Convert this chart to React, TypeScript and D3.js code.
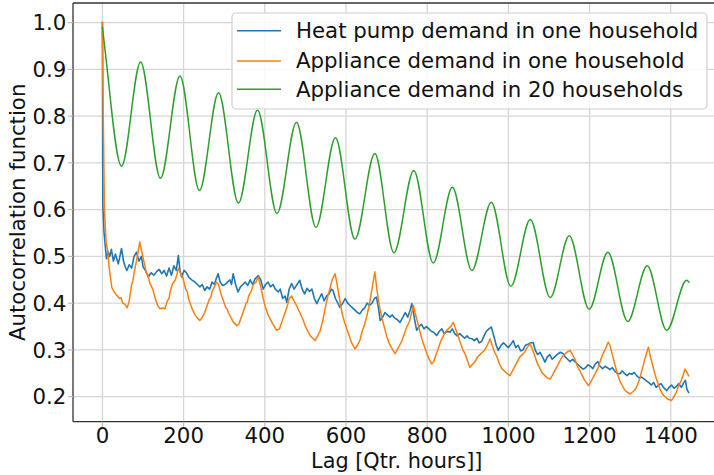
import React from "react";
import * as d3 from "d3";

const W = 714;
const H = 475;

const xTicks = [0, 200, 400, 600, 800, 1000, 1200, 1400];
const yTicks = [0.2, 0.3, 0.4, 0.5, 0.6, 0.7, 0.8, 0.9, 1.0];

const seriesNames = [
  "Heat pump demand in one household",
  "Appliance demand in one household",
  "Appliance demand in 20 households",
];
const seriesColors = ["#1f77b4", "#ff7f0e", "#2ca02c"];

// Heat pump demand, one household: [lag, acf]
const heatPump: [number, number][] = [
  [0, 1.0], [1, 0.61], [4, 0.55], [10, 0.495], [14, 0.51], [18, 0.5], [22, 0.515], [27, 0.49], [32, 0.505],
  [39, 0.484], [43, 0.5], [47, 0.517], [52, 0.49], [56, 0.478], [60, 0.47], [66, 0.482], [72, 0.475], [78, 0.5],
  [84, 0.509], [90, 0.49], [96, 0.5], [100, 0.478], [106, 0.47], [113, 0.456], [120, 0.465], [127, 0.46],
  [134, 0.468], [140, 0.472], [146, 0.463], [152, 0.47], [158, 0.458], [164, 0.475], [170, 0.46], [176, 0.48],
  [182, 0.47], [187, 0.502], [191, 0.47], [195, 0.456], [201, 0.47], [207, 0.465], [213, 0.455], [220, 0.45],
  [228, 0.445], [234, 0.44], [240, 0.435], [246, 0.44], [252, 0.427], [258, 0.435], [264, 0.43], [270, 0.445],
  [276, 0.44], [280, 0.452], [285, 0.463], [290, 0.445], [296, 0.438], [302, 0.44], [308, 0.445], [314, 0.45],
  [318, 0.44], [322, 0.463], [328, 0.44], [334, 0.424], [340, 0.435], [346, 0.44], [352, 0.445], [358, 0.438],
  [364, 0.45], [370, 0.44], [376, 0.452], [384, 0.459], [390, 0.45], [396, 0.43], [402, 0.44], [408, 0.445],
  [414, 0.435], [420, 0.44], [426, 0.43], [433, 0.424], [438, 0.43], [444, 0.41], [450, 0.415], [454, 0.402],
  [460, 0.43], [466, 0.442], [472, 0.43], [478, 0.438], [486, 0.449], [492, 0.43], [498, 0.42], [504, 0.432],
  [510, 0.425], [516, 0.43], [522, 0.41], [528, 0.399], [534, 0.41], [540, 0.42], [546, 0.405], [552, 0.415],
  [558, 0.42], [564, 0.43], [568, 0.427], [574, 0.41], [580, 0.4], [585, 0.391], [592, 0.4], [598, 0.41],
  [604, 0.4], [610, 0.395], [616, 0.39], [622, 0.385], [628, 0.38], [634, 0.377], [640, 0.385], [646, 0.39],
  [652, 0.4], [658, 0.395], [664, 0.4], [670, 0.41], [675, 0.413], [680, 0.39], [684, 0.363], [690, 0.37],
  [696, 0.38], [702, 0.375], [708, 0.37], [714, 0.375], [720, 0.368], [726, 0.365], [733, 0.359], [740, 0.37],
  [746, 0.38], [752, 0.37], [758, 0.385], [762, 0.399], [768, 0.37], [774, 0.342], [780, 0.35], [786, 0.355],
  [792, 0.345], [798, 0.35], [804, 0.345], [810, 0.34], [816, 0.338], [823, 0.331], [830, 0.34], [836, 0.345],
  [842, 0.335], [850, 0.34], [856, 0.338], [862, 0.345], [868, 0.335], [874, 0.33], [880, 0.335], [886, 0.33],
  [892, 0.325], [898, 0.33], [904, 0.325], [910, 0.324], [916, 0.32], [922, 0.325], [928, 0.315], [934, 0.318],
  [940, 0.33], [946, 0.34], [952, 0.345], [958, 0.349], [964, 0.33], [970, 0.31], [975, 0.299], [982, 0.31],
  [988, 0.315], [994, 0.31], [1000, 0.305], [1006, 0.312], [1012, 0.32], [1018, 0.305], [1024, 0.31],
  [1030, 0.298], [1036, 0.3], [1042, 0.31], [1048, 0.312], [1054, 0.315], [1061, 0.316], [1066, 0.3],
  [1072, 0.29], [1078, 0.295], [1084, 0.285], [1090, 0.274], [1096, 0.285], [1102, 0.29], [1108, 0.28],
  [1114, 0.285], [1120, 0.29], [1128, 0.295], [1135, 0.292], [1140, 0.285], [1146, 0.28], [1152, 0.275],
  [1158, 0.28], [1164, 0.275], [1170, 0.27], [1176, 0.265], [1184, 0.259], [1190, 0.262], [1196, 0.268],
  [1202, 0.265], [1208, 0.26], [1214, 0.27], [1220, 0.275], [1226, 0.265], [1232, 0.26], [1238, 0.265],
  [1244, 0.262], [1250, 0.258], [1256, 0.262], [1262, 0.255], [1268, 0.25], [1275, 0.249], [1280, 0.255],
  [1286, 0.25], [1292, 0.245], [1298, 0.25], [1304, 0.248], [1310, 0.252], [1316, 0.245], [1322, 0.24],
  [1328, 0.242], [1334, 0.238], [1340, 0.234], [1346, 0.23], [1352, 0.225], [1358, 0.23], [1364, 0.22],
  [1370, 0.225], [1376, 0.228], [1382, 0.22], [1390, 0.213], [1396, 0.22], [1402, 0.225], [1408, 0.218],
  [1414, 0.222], [1420, 0.228], [1426, 0.22], [1432, 0.23], [1436, 0.235], [1440, 0.215], [1444, 0.209],
];

// Appliance demand, one household
const applianceOne: [number, number][] = [
  [0, 1.0], [2, 0.8], [5, 0.6], [9, 0.53], [13, 0.513], [16, 0.48], [23, 0.434], [28, 0.425], [35, 0.417],
  [42, 0.41], [46, 0.412], [50, 0.4], [55, 0.398], [61, 0.39], [66, 0.405], [72, 0.44], [75, 0.448], [78, 0.465],
  [84, 0.491], [88, 0.51], [92, 0.531], [97, 0.51], [102, 0.49], [105, 0.478], [108, 0.465], [112, 0.46],
  [117, 0.442], [124, 0.43], [130, 0.41], [136, 0.395], [142, 0.388], [148, 0.39], [154, 0.388], [160, 0.405],
  [164, 0.41], [167, 0.425], [172, 0.44], [179, 0.449], [183, 0.46], [187, 0.474], [192, 0.465], [198, 0.455],
  [205, 0.43], [209, 0.425], [212, 0.41], [220, 0.39], [228, 0.375], [234, 0.368], [240, 0.363], [246, 0.37],
  [252, 0.38], [258, 0.395], [264, 0.41], [267, 0.412], [270, 0.425], [276, 0.435], [281, 0.445], [286, 0.44],
  [292, 0.42], [298, 0.405], [304, 0.39], [307, 0.388], [310, 0.38], [316, 0.37], [322, 0.36], [331, 0.352],
  [336, 0.355], [342, 0.37], [348, 0.385], [354, 0.4], [357, 0.402], [360, 0.415], [366, 0.425], [372, 0.44],
  [378, 0.445], [384, 0.456], [390, 0.435], [396, 0.41], [402, 0.39], [408, 0.375], [414, 0.365], [420, 0.355],
  [429, 0.342], [436, 0.345], [442, 0.36], [448, 0.375], [454, 0.39], [460, 0.41], [466, 0.415], [472, 0.405],
  [478, 0.395], [486, 0.38], [494, 0.365], [500, 0.35], [506, 0.34], [512, 0.33], [518, 0.325], [524, 0.32],
  [530, 0.33], [536, 0.34], [542, 0.36], [548, 0.385], [554, 0.41], [560, 0.43], [566, 0.45], [573, 0.463],
  [578, 0.44], [584, 0.41], [590, 0.38], [596, 0.36], [602, 0.345], [608, 0.33], [614, 0.315], [622, 0.302],
  [628, 0.31], [634, 0.32], [640, 0.34], [646, 0.355], [652, 0.375], [658, 0.4], [664, 0.43], [671, 0.467],
  [676, 0.43], [682, 0.395], [688, 0.37], [694, 0.35], [700, 0.33], [706, 0.315], [712, 0.305], [721, 0.292],
  [726, 0.3], [732, 0.31], [738, 0.32], [744, 0.335], [750, 0.35], [756, 0.36], [766, 0.395], [770, 0.38],
  [776, 0.36], [782, 0.34], [788, 0.32], [794, 0.305], [800, 0.29], [806, 0.278], [811, 0.27], [816, 0.275],
  [822, 0.29], [828, 0.305], [834, 0.32], [840, 0.33], [846, 0.34], [852, 0.345], [858, 0.35], [864, 0.359],
  [870, 0.345], [876, 0.33], [882, 0.315], [888, 0.3], [894, 0.29], [900, 0.275], [905, 0.263], [912, 0.27],
  [918, 0.275], [924, 0.285], [930, 0.29], [936, 0.295], [942, 0.3], [948, 0.31], [955, 0.324], [960, 0.31],
  [966, 0.295], [972, 0.285], [978, 0.27], [984, 0.26], [990, 0.255], [996, 0.25], [1004, 0.245], [1010, 0.255],
  [1016, 0.265], [1022, 0.275], [1028, 0.285], [1034, 0.29], [1040, 0.295], [1046, 0.305], [1053, 0.313],
  [1060, 0.3], [1066, 0.285], [1072, 0.27], [1078, 0.26], [1084, 0.25], [1090, 0.245], [1096, 0.24],
  [1103, 0.238], [1108, 0.245], [1114, 0.255], [1120, 0.265], [1126, 0.275], [1132, 0.285], [1138, 0.29],
  [1144, 0.295], [1152, 0.299], [1158, 0.29], [1164, 0.28], [1170, 0.265], [1176, 0.255], [1182, 0.245],
  [1188, 0.235], [1197, 0.224], [1202, 0.23], [1208, 0.24], [1214, 0.25], [1220, 0.26], [1226, 0.275],
  [1232, 0.29], [1238, 0.3], [1246, 0.317], [1250, 0.31], [1256, 0.29], [1262, 0.27], [1268, 0.25],
  [1274, 0.235], [1280, 0.225], [1286, 0.215], [1292, 0.21], [1300, 0.206], [1306, 0.21], [1312, 0.215],
  [1318, 0.225], [1324, 0.24], [1330, 0.26], [1336, 0.28], [1345, 0.306], [1350, 0.285], [1356, 0.265],
  [1362, 0.245], [1368, 0.23], [1374, 0.215], [1380, 0.205], [1386, 0.2], [1392, 0.195], [1402, 0.192],
  [1408, 0.2], [1414, 0.21], [1420, 0.225], [1426, 0.235], [1432, 0.25], [1435, 0.259], [1438, 0.255],
  [1441, 0.25], [1444, 0.245],
];

// Appliance demand, 20 households (peaks and troughs)
const applianceTwenty: [number, number][] = [
  [0, 0.99], [6, 0.945], [47, 0.693], [94, 0.916], [143, 0.667], [191, 0.886], [239, 0.641], [286, 0.85],
  [335, 0.614], [382, 0.813], [430, 0.592], [478, 0.787], [526, 0.562], [574, 0.754], [622, 0.537],
  [671, 0.72], [718, 0.508], [767, 0.684], [815, 0.486], [862, 0.648], [910, 0.47], [958, 0.616],
  [1006, 0.436], [1054, 0.579], [1103, 0.412], [1150, 0.544], [1199, 0.387], [1245, 0.509], [1294, 0.361],
  [1342, 0.48], [1390, 0.342], [1439, 0.449], [1445, 0.445],
];

const allSeries = [heatPump, applianceOne, applianceTwenty];

export default function App() {
  const left = 73;
  const right = 720.5;
  const top = 3;
  const bottom = 421.7;

  const x = d3.scaleLinear().domain([-72.5, 1522.5]).range([left, right]);
  const y = d3.scaleLinear().domain([0.1465, 1.042]).range([bottom, top]);

  const lineLinear = d3
    .line<[number, number]>()
    .x((d) => x(d[0]))
    .y((d) => y(d[1]));
  const lineSmooth = d3
    .line<[number, number]>()
    .x((d) => x(d[0]))
    .y((d) => y(d[1]))
    .curve(d3.curveMonotoneX);

  const font = "'DejaVu Sans', sans-serif";
  const fs = 21.3;

  return (
    <svg
      width={W}
      height={H}
      viewBox={`0 0 ${W} ${H}`}
      style={{ position: "absolute", left: 0, top: 0, background: "#fff" }}
    >
      <defs>
        <clipPath id="plotClip">
          <rect x={left} y={top} width={right - left} height={bottom - top} />
        </clipPath>
      </defs>
      <rect x={0} y={0} width={W} height={H} fill="#fff" />
      {/* grid */}
      <g stroke="#d6d6d6" strokeWidth={1.3}>
        {xTicks.map((t) => (
          <line key={"gx" + t} x1={x(t)} x2={x(t)} y1={top} y2={bottom} />
        ))}
        {yTicks.map((t) => (
          <line key={"gy" + t} x1={left} x2={right} y1={y(t)} y2={y(t)} />
        ))}
      </g>
      {/* data */}
      <g clipPath="url(#plotClip)" fill="none" strokeLinejoin="round" strokeLinecap="square">
        <path d={lineLinear(allSeries[0]) || ""} stroke={seriesColors[0]} strokeWidth={1.6} />
        <path d={lineLinear(allSeries[1]) || ""} stroke={seriesColors[1]} strokeWidth={1.5} />
        <path d={lineSmooth(allSeries[2]) || ""} stroke={seriesColors[2]} strokeWidth={1.5} />
      </g>
      {/* spines */}
      <g stroke="#333" strokeWidth={1.3} fill="none">
        <line x1={left} x2={left} y1={top} y2={bottom} />
        <line x1={left} x2={W} y1={bottom} y2={bottom} />
        <line x1={left} x2={W} y1={top} y2={top} />
      </g>
      {/* ticks */}
      <g stroke="#bbb" strokeWidth={1.2}>
        {xTicks.map((t) => (
          <line key={"tx" + t} x1={x(t)} x2={x(t)} y1={bottom} y2={bottom + 5} />
        ))}
        {yTicks.map((t) => (
          <line key={"ty" + t} x1={left - 5} x2={left} y1={y(t)} y2={y(t)} />
        ))}
      </g>
      {/* tick labels */}
      <g fontFamily={font} fontSize={fs} fill="#111">
        {xTicks.map((t) => (
          <text key={"lx" + t} x={x(t)} y={443} textAnchor="middle">
            {String(t)}
          </text>
        ))}
        {yTicks.map((t) => (
          <text key={"ly" + t} x={66.3} y={y(t) + 7.8} textAnchor="end">
            {t.toFixed(1)}
          </text>
        ))}
      </g>
      {/* axis labels */}
      <text
        x={(left + right) / 2}
        y={467.5}
        textAnchor="middle"
        fontFamily={font}
        fontSize={20.8}
        fill="#111"
      >
        Lag [Qtr. hours]]
      </text>
      <text
        transform={`translate(25,${(top + bottom) / 2}) rotate(-90)`}
        textAnchor="middle"
        fontFamily={font}
        fontSize={fs}
        fill="#111"
      >
        Autocorrelation function
      </text>
      {/* legend */}
      <g>
        <rect
          x={232}
          y={13}
          width={475}
          height={96}
          rx={4}
          fill="#fff"
          fillOpacity={0.85}
          stroke="#d0d0d0"
          strokeWidth={1.2}
        />
        {seriesNames.map((name, i) => {
          const ly = [30.7, 61, 89.3][i];
          return (
            <g key={name}>
              <line x1={237} x2={281} y1={ly} y2={ly} stroke={seriesColors[i]} strokeWidth={1.5} />
              <text x={296} y={ly + 7.3} fontFamily={font} fontSize={fs} fill="#111">
                {name}
              </text>
            </g>
          );
        })}
      </g>
    </svg>
  );
}
